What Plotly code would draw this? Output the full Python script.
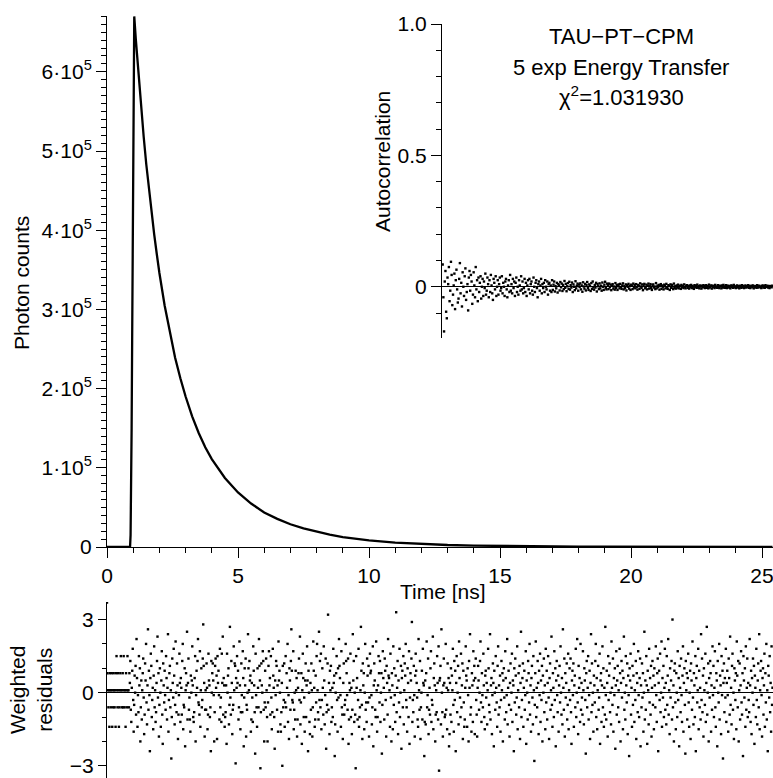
import plotly.graph_objects as go

# ---------------- data ----------------
decay_t = [0.0, 0.5, 0.88, 0.90, 0.92, 0.94, 0.96, 0.98, 1.00, 1.02, 1.04,
           1.1, 1.2, 1.3, 1.4, 1.5, 1.6, 1.7, 1.8, 1.9, 2.0,
           2.2, 2.4, 2.6, 2.8, 3.0, 3.25, 3.5, 3.75, 4.0, 4.5,
           5.0, 5.5, 6.0, 6.5, 7.0, 7.5, 8.0, 8.5, 9.0, 9.5,
           10.0, 11.0, 12.0, 13.0, 14.0, 15.0, 16.0, 17.0, 18.0, 19.0,
           20.0, 21.0, 22.0, 23.0, 24.0, 25.0, 25.4]
decay_counts = [0, 0, 0, 15000, 60000, 150000, 260000, 390000, 520000, 620000, 670000,
                641000, 597000, 556000, 518000, 483000, 452000, 422000, 395000, 370000, 346000,
                305000, 270000, 239000, 213000, 190000, 165000, 144000, 126000, 111000, 87200,
                68900, 54900, 43500, 35500, 28700, 23400, 19000, 15500, 12600, 10200,
                8400, 5600, 3800, 2500, 1700, 1150, 800, 550, 400, 300,
                220, 170, 130, 100, 80, 70, 60]

y_tick_vals = [0, 100000, 200000, 300000, 400000, 500000, 600000]
y_tick_text = ["0", "1·10<sup>5</sup>", "2·10<sup>5</sup>", "3·10<sup>5</sup>",
               "4·10<sup>5</sup>", "5·10<sup>5</sup>", "6·10<sup>5</sup>"]

# autocorrelation of residuals (units of 0.001)
autocorr_milli = [
    85, -40, -170, 20, 60, -95, -120, 35, 10, 75, -55, -15, 95, 45, -70, -30, 5, 50, -85, 25,
    65, -10, -60, -45, 30, 90, -25, 15, -75, 55, 0, -35, 40, 70, -50, -20, 10, -90, 35, 60,
    -15, 45, 20, -65, -30, 55, 5, -40, 75, -10, 25, -55, 35, -20, 15, 40, -45, 0, 30, -35,
    20, -5, 50, -30, -15, 35, 10, -40, 25, -20, 45, 5, -25, -50, 30, 15, -10, 40, -35, 0,
    25, -30, 10, 35, -15, -5, 40, -25, 15, 0, -35, 20, 30, -10, -40, 5, 25, -20, 45, -15,
    10, -25, 30, -5, 20, -35, 15, 35, -20, 0, -30, 25, 5, -15, 40, -10, 20, -25, -5, 30,
    -20, 15, -35, 5, 25, -10, 30, -25, 10, 20, -15, -30, 35, 0, -20, 15, 25, -5, -40, 10,
    20, -15, 5, 30, -25, 10, -5, 15, -20, 25, 0, -10, 20, -30, 10, 15, -15, 5, -20, 25,
    -12, 8, 20, -18, 3, -6, 15, -22, 10, 5, -14, 18, -2, 12, -16, 7, -9, 22, -4, 11,
    -17, 2, 14, -8, 19, -11, 6, -3, 16, -20, 9, 0, -13, 21, -6, 4, 12, -15, 8, -1,
    13, -10, 5, -19, 17, 1, -7, 11, -14, 6, 18, -4, -12, 9, 3, -16, 14, -8, 20, -2,
    -11, 7, -3, 15, -18, 10, 2, -9, 13, -6, 4, -15, 16, 0, -12, 8, 19, -5, -10, 12,
    6, -9, 12, -2, 8, -13, 4, 10, -7, 1, -11, 14, -4, 7, -12, 3, 9, -6, 11, -1,
    -8, 5, 13, -10, 2, -5, 9, -14, 6, 0, 11, -7, 3, -12, 8, 4, -9, 12, -3, 7,
    -6, 10, -1, -11, 7, 3, -8, 13, 1, -4, 9, -13, 5, 11, -6, -2, 8, -10, 4, 12,
    -7, 2, 10, -5, -12, 6, 9, -3, 1, -9, 14, -6, 4, -1, 7, -11, 3, 10, -8, 5,
    0, -10, 8, 4, -6, 11, -2, -8, 6, 3, -12, 9, -4, 7, 1, -9, 12, -5, 2, -7,
    5, -3, 8, -6, 1, 4, -8, 7, -2, 3, -5, 9, -1, -6, 4, 6, -4, 2, -7, 5,
    -2, 7, -5, 3, 0, -8, 6, -1, 4, -4, 8, -3, 2, -6, 5, 1, -7, 4, -2, 6,
    3, -5, 1, 6, -4, 2, -6, 8, -3, 0, 5, -7, 4, -1, 3, -5, 7, -2, 1, -4,
    6, -2, -5, 4, 2, -6, 5, -3, 7, -1, -4, 3, 6, -5, 0, 4, -3, 2, -6, 5,
    -1, 4, -4, 7, -2, 1, -5, 3, 5, -3, 2, -6, 4, 0, -4, 6, -2, 3, -5, 1,
    5, -3, 2, -1, 6, -4, 3, -5, 1, 4, -2, 5, -6, 2, -1, 3, -4, 6, -3, 0,
    4, -2, 1, -5, 3, 5, -3, 2, -4, 6, -1, 0, 4, -3, 2, -5, 3, 1, -2, 4,
]

# weighted residuals (units of 0.1), one per channel
residuals_tenths = [
    37, 8, 1, -6, 1, -14, 8, 1, -6, 1, 8, -14, 1, -6, 8, 1, -6, 1, -14, 8, 15, 1, -6, 8, 1,
    -14, -6, 1, 8, 15, 1, -6, 1, 8, -6, 15, 1, -6, 1, -14, 8, 1, -6, 15, 1, 1, -6, 8,
    4, 13, -7, -12, 2, 9, 18, -3, -16, -5, 7, 0, 11, -9, 22, 6, -14, -1, -8, 15, 3, 10, -20, -6, 5,
    -11, 1, 8, 14, -2, -17, -9, 12, 5, 20, -4, -13, 3, 26, -7, 9, -1, -24, 6, 16, 11, -10, -3, 2, -15,
    7, 19, -6, 1, -12, -8, 4, 13, 23, -2, 8, -18, -5, 10, 0, -14, 5, 17, -9, -21, 12, 3, -4, 9, -1,
    -7, 15, 6, -11, 2, 24, -16, -3, 8, 11, -6, 1, -27, -10, 14, 4, -2, 18, 7, -13, -5, 21, 0, -8, 12,
    3, -19, -9, -1, 16, 4, -12, 6, 2, -9, 13, 20, -15, -5, -6, 10, -22, 1, 8, 3, 25, -11, 4, 14, -7,
    -2, -11, -16, 7, 0, 5, 19, 3, -10, -12, -8, 6, 15, -20, -1, 9, 2, 13, 22, -4, -5, -9, 17, -14, 1,
    10, -6, -3, 14, 28, 11, 4, -18, -7, 1, -7, 12, 2, -15, -9, 16, 5, 3, -10, -6, -24, 13, 0, 8, 12,
    5, -1, -20, -8, 11, 14, 2, 7, -19, 15, 4, 9, -1, -11, 18, -6, -2, -12, 16, 4, 23, -9, 6, 3, -14,
    -10, -8, 3, -21, 16, 0, 7, 10, -13, -5, 27, -2, -9, 13, 4, -17, -7, -5, 19, 1, 12, 11, -29, 6, 2,
    15, 4, 9, -11, -6, 21, 3, -15, -8, 12, -1, -8, 17, 6, -22, -2, 10, 3, 14, -18, -5, -7, 0, 24, 10,
    1, 13, 5, 7, -16, -11, 4, -2, -12, 19, 9, 3, -8, -25, 16, -1, -6, -14, 10, 2, -6, 22, 11, 5, -31,
    -8, 12, 3, 0, 17, 13, -7, -20, -4, 9, -6, 14, 1, -10, -20, -4, 11, 17, 3, 6, -9, 15, -2, -15, -8,
    18, 7, 2, -10, -23, 5, -1, 13, 11, -7, 3, -16, 21, 5, 9, 0, -13, -16, -8, 4, -30, 11, -6, -3, 12,
    -14, -4, 15, -6, 8, 2, 20, -12, -1, -19, 10, 5, -7, 13, 26, 9, -3, -4, 17, -15, -7, 0, -11, 9, 1,
    6, -18, -11, 2, 8, 14, -3, 23, -13, -4, 8, -21, 1, 16, 6, -10, -2, -16, 5, 12, -10, 3, 19, 5, -24,
    9, 0, -12, -17, 4, -7, 12, 1, -18, -6, 21, 9, 2, -14, -11, 7, -4, 15, 20, 1, -8, -11, 25, -3, 13,
    -6, 16, -15, -3, 10, 2, -9, 19, 5, -13, -1, 14, -23, -8, -5, 12, 32, -7, 4, -17, 9, 1, 11, -12, -6,
    2, -10, 18, 4, 7, -26, -13, 0, 8, 15, -3, -16, 10, -2, 22, 11, 6, -1, -14, 17, -6, -9, -19, 4, 12,
    -9, -5, -3, 20, 13, 8, -1, -7, 14, -21, -11, 4, 1, 16, -10, 2, -17, -7, 24, 5, 13, -12, 0, -9, -31,
    15, 2, 6, -11, -3, 18, -14, -10, -6, 1, 27, 9, -5, -19, 12, 3, 8, -15, 0, 20, -7, -4, -12, 14, 7,
    -4, 11, -18, -2, 16, 8, 9, -1, -13, -6, 19, -22, 3, 12, 5, -7, -10, 21, 1, -16, -10, 3, 15, 8, -4,
    13, -12, 0, 8, -25, -5, 17, 6, 2, -11, 14, 9, -3, -18, 11, 4, -9, 22, 7, 6, 1, -14, 16, -2, -20,
    8, 3, -15, 19, -5, 10, -1, -12, 7, 33, -8, 2, 13, -17, 5, -4, 18, -10, 0, 11, -23, 6, 9, -6, 15,
    -13, 1, 12, 7, 20, -3, -6, -16, 10, 4, -10, 17, -21, -2, 8, 5, 14, 29, -12, -3, -8, 11, -1, -18, 7,
    16, 9, 4, -2, -11, -14, 22, 1, -7, 13, -19, -6, 0, 9, -11, 18, 4, 3, -26, -12, 5, -13, 8, 21, -6,
    -1, 14, -17, -7, 2, -9, 10, 17, -12, -3, -5, 23, -15, 6, 12, 3, -20, -9, 1, -8, 15, 4, -11, 19, -32,
    5, 6, 11, -13, 26, 0, -8, -18, 3, 14, 4, -10, -9, 20, -7, 2, -15, 12, 1, 6, -22, -17, 4, -9, 10,
    -12, 7, 1, 18, -5, -16, 13, -3, 9, -24, 4, 15, -8, 0, 11, -13, 21, 6, -2, -10, 16, -6, 3, 12, -19,
    9, -4, -14, -11, 2, 19, 7, 5, -14, 10, -1, -20, 13, 2, 24, -9, -6, -16, 8, 3, -12, 17, 5, 11, -17,
    6, 14, -3, -9, -18, 2, 11, 5, -7, 0, 13, 21, -4, -12, 8, -1, -6, 16, 3, -10, -15, 7, 9, -2, 4,
    -13, 1, 18, 10, -5, -8, 24, -11, 3, 6, -17, -1, 12, 4, -22, 9, 0, -7, 15, 2, -4, -14, 11, 19, -9,
    3, -6, 7, -16, -3, 13, 1, 8, -20, 5, 10, -2, -11, 17, 6, -8, -1, 22, -13, 2, 9, -5, -18, 4, 12,
    -7, 0, 16, -12, 5, 3, -24, 10, -4, 14, 7, -9, -2, 19, -15, 1, 8, -6, 11, -19, 4, 25, -10, -3, 6,
    12, -14, 2, 9, -7, -1, 17, -21, 5, 0, -11, 13, 8, -4, 20, -9, 3, -16, 6, 11, -2, -13, 15, 1, -28,
    -5, 8, 21, -10, 2, -6, 13, 4, -17, 9, -1, 16, -12, 5, -3, 11, -20, 7, 0, 14, -8, 3, -15, 18, -4,
    9, -11, 4, 15, -2, -19, 6, 12, -7, 1, 23, -5, -14, 8, 2, -10, 17, -3, 10, -22, 5, 13, -1, -8, 7,
    -16, 3, 11, -4, 19, 0, -9, 6, -13, 26, 2, -7, 14, -18, 8, -2, 4, 12, -11, -5, 16, -15, 1, 10, -3,
    14, -8, -21, 5, 9, -1, 12, -14, 3, 7, -6, 18, -10, 0, 22, -4, -17, 11, 2, 6, -12, 20, -7, 4, -2,
    -9, 17, 1, -13, 10, 5, -3, -25, 8, 13, -6, 2, 15, -11, -1, 9, -19, 4, 24, -8, 12, -5, 0, -16, 7,
    3, -4, 13, 20, -10, 6, -15, 1, 11, -7, -2, 16, -21, 5, 8, -12, 3, 19, -6, 10, -14, 2, -9, 27, -1,
    -11, 9, 4, -18, 15, -3, 7, 12, -8, 0, -13, 21, 2, -5, 14, -16, 6, -1, 10, -23, 3, 17, -9, 5, 11,
    -6, 1, -12, 18, 8, -20, 4, 13, -2, 9, -15, 6, 23, -7, 0, -11, 15, 3, -4, 12, -17, 7, -1, -26, 10,
    5, 16, -9, 2, -14, 11, -5, 7, 20, -12, 1, -3, 13, -19, 8, 4, -8, 17, -1, -10, 6, 14, -22, 3, -6,
    12, -2, 8, -16, 0, 25, -11, 5, -7, 15, 3, -21, 9, 1, -13, 18, -4, 6, -9, 11, -18, 2, 13, -5, 7,
    -15, 10, 3, -6, 19, -1, -12, 8, 14, -24, 4, 9, -3, 16, -8, 0, 21, -14, 6, -2, 11, -10, 2, 18, -7,
    4, -13, 15, -5, 7, 22, -9, 1, -17, 10, -2, 5, 13, -11, 30, -6, 3, -20, 9, 12, -4, -15, 8, 0, -10,
    17, -3, 6, -22, 11, 2, -8, 14, -1, -12, 7, 19, -16, 4, 10, -5, -25, 13, 1, 8, -11, 6, 16, -4, -14,
    0, 9, -19, 12, 5, -7, 21, -2, -13, 8, 3, -10, 15, -24, 6, 11, -4, 1, 18, -15, 9, -6, 2, -11, 24,
    -3, 14, -8, 7, -18, 10, 1, -5, 16, -12, 4, 27, -9, 0, 12, -20, 6, -2, 13, 8, -16, 3, -7, 19, -1,
    11, -10, 2, 17, -6, -14, 8, 5, -22, 13, 0, -4, 20, -11, 7, 3, -17, 15, -1, 9, -27, 4, 12, -8, 6,
    -2, 18, -12, 4, 9, -1, -16, 14, 6, -9, 23, -5, 2, -13, 11, 16, -7, 0, -19, 10, 5, -3, 8, -15, 21,
    7, -6, 13, -20, 1, 12, -11, 3, 17, -4, -9, 8, -26, 15, 5, -2, 10, -14, 19, -7, 2, 14, -10, 4, -3,
    -8, 22, 3, -12, 9, -17, 6, 0, 14, -5, 11, -21, 7, 2, -10, 18, -3, -13, 5, 12, -6, 24, -15, 1, 9,
    13, -1, -18, 6, 10, -9, 3, 16, -14, 8, -4, 20, -11, 1, -24, 11, 7, -2, 15, -8, 4, -16, 19, -5, 2,
]

res_tick_vals = [-3, 0, 3]
res_tick_text = ["−3", "0", "3"]
ac_tick_vals = [0, 0.5, 1.0]
ac_tick_text = ["0", "0.5", "1.0"]

T_MAX = 25.42
RES_DT = T_MAX / len(residuals_tenths)

# ---------------- derived arrays ----------------
ac_x = list(range(len(autocorr_milli)))
ac_y = [v / 1000 for v in autocorr_milli]
res_x = [i * RES_DT for i in range(len(residuals_tenths))]
res_y = [v / 10 for v in residuals_tenths]

W, H = 773, 778
FONT = "Arial, Liberation Sans, sans-serif"
FS = 21
FS_TXT = 22


def px_x(p):
    return p / W


def px_y(p):
    return (H - p) / H


fig = go.Figure()
fig.add_trace(go.Scatter(x=decay_t, y=decay_counts, mode="lines",
                         line=dict(color="black", width=2.3),
                         xaxis="x", yaxis="y", showlegend=False, hoverinfo="skip"))
fig.add_trace(go.Scatter(x=ac_x, y=ac_y, mode="markers",
                         marker=dict(color="black", size=2.4, symbol="square"),
                         xaxis="x2", yaxis="y2", showlegend=False, hoverinfo="skip"))
fig.add_trace(go.Scatter(x=res_x, y=res_y, mode="markers",
                         marker=dict(color="black", size=2.4, symbol="square"),
                         xaxis="x3", yaxis="y3", showlegend=False, hoverinfo="skip"))

tickfont = dict(family=FONT, size=FS, color="black")
common_axis = dict(showgrid=False, showline=True, linecolor="black", linewidth=1,
                   ticks="outside", tickcolor="black", tickwidth=1, tickfont=tickfont,
                   ticklabeloverflow="allow", automargin=False)

fig.update_layout(
    width=W, height=H, autosize=False,
    margin=dict(l=0, r=0, t=0, b=0, pad=0, autoexpand=False),
    paper_bgcolor="white", plot_bgcolor="rgba(0,0,0,0)",
    font=dict(family=FONT, size=FS, color="black"),
    xaxis=dict(domain=[px_x(107), 1], range=[0, T_MAX], anchor="y",
               tickmode="linear", tick0=0, dtick=5, ticklen=10, zeroline=False,
               minor=dict(tickmode="linear", tick0=0, dtick=1, ticks="outside",
                          ticklen=5, tickcolor="black", tickwidth=1, showgrid=False),
               **common_axis),
    yaxis=dict(domain=[px_y(547), px_y(16)], range=[0, 670500], anchor="x",
               tickmode="array", tickvals=y_tick_vals, ticktext=y_tick_text,
               ticklen=10, zeroline=False,
               minor=dict(tickmode="linear", tick0=0, dtick=10000, ticks="outside",
                          ticklen=5, tickcolor="black", tickwidth=1, showgrid=False),
               **common_axis),
    xaxis2=dict(domain=[px_x(442), 1], range=[-1, len(ac_x)], anchor="y2",
                visible=False, automargin=False),
    yaxis2=dict(domain=[px_y(338), px_y(24)], range=[-0.195, 1.0], anchor="x2",
                tickmode="array", tickvals=ac_tick_vals, ticktext=ac_tick_text,
                ticklen=10, zeroline=True, zerolinecolor="black", zerolinewidth=1,
                minor=dict(tickmode="linear", tick0=0, dtick=0.1, ticks="outside",
                           ticklen=5, tickcolor="black", tickwidth=1, showgrid=False),
                **common_axis),
    xaxis3=dict(domain=[px_x(107), 1], range=[0, T_MAX], anchor="y3",
                visible=False, automargin=False),
    yaxis3=dict(domain=[0, px_y(602)], range=[-3.5, 3.72], anchor="x3",
                tickmode="array", tickvals=res_tick_vals, ticktext=res_tick_text,
                ticklen=8, zeroline=True, zerolinecolor="black", zerolinewidth=1,
                minor=dict(tickmode="linear", tick0=0, dtick=1, ticks="outside",
                           ticklen=4, tickcolor="black", tickwidth=1, showgrid=False),
                **common_axis),
)

annotations = [
    dict(text="Photon counts", x=px_x(21), y=px_y(283), textangle=-90, size=FS),
    dict(text="Time [ns]", x=px_x(443), y=px_y(591), size=FS),
    dict(text="Autocorrelation", x=px_x(383), y=px_y(162), textangle=-90, size=FS),
    dict(text="Weighted<br>residuals", x=px_x(31), y=px_y(690), textangle=-90, size=FS),
    dict(text="TAU−PT−CPM", x=px_x(621), y=px_y(37), size=FS_TXT),
    dict(text="5 exp Energy Transfer", x=px_x(621), y=px_y(67), size=FS_TXT),
    dict(text="χ<sup>2</sup>=1.031930", x=px_x(621), y=px_y(96), size=FS_TXT),
]
for a in annotations:
    size = a.pop("size")
    fig.add_annotation(xref="paper", yref="paper", showarrow=False,
                       xanchor="center", yanchor="middle",
                       font=dict(family=FONT, size=size, color="black"), **a)

fig.write_html(
    "out.html",
    post_script=("document.documentElement.style.margin='0';"
                 "document.body.style.margin='0';"
                 "document.body.style.overflow='hidden';"),
)
